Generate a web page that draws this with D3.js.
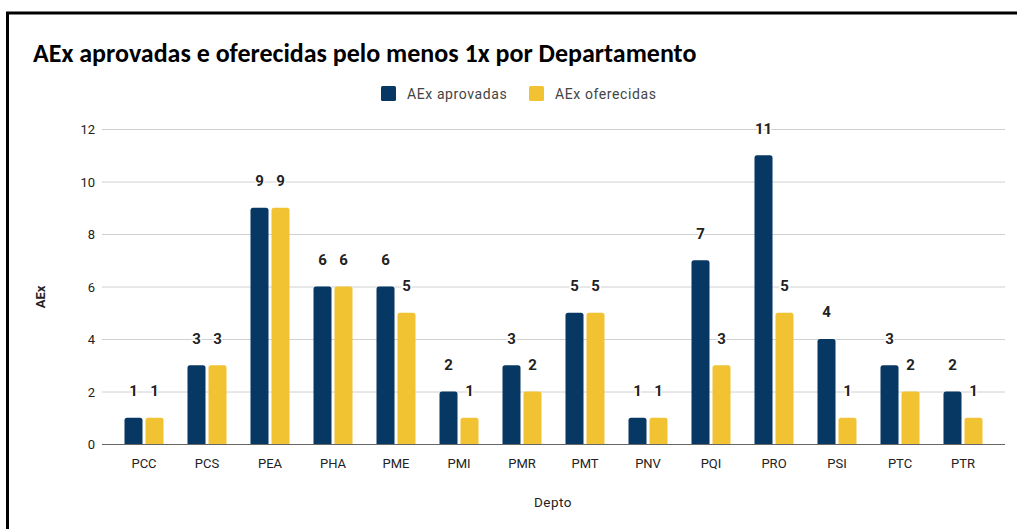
<!DOCTYPE html>
<html><head><meta charset="utf-8">
<script src="https://cdn.jsdelivr.net/npm/d3@7"></script>
<style>
html,body{margin:0;padding:0;background:#fff;}
svg{display:block;}
</style></head>
<body>
<svg id="chart" width="1017" height="529"></svg>
<script>
const categories = ["PCC","PCS","PEA","PHA","PME","PMI","PMR","PMT","PNV","PQI","PRO","PSI","PTC","PTR"];
const aprovadas  = [1,3,9,6,6,2,3,5,1,7,11,4,3,2];
const oferecidas = [1,3,9,6,5,1,2,5,1,3,5,1,2,1];
const seriesNames = ["AEx aprovadas","AEx oferecidas"];
const seriesColors = ["#073763","#f1c232"];
const yTicks = [0,2,4,6,8,10,12];

const svg = d3.select("#chart");
const W = 1017, H = 529;
const fontUI = "Roboto, 'Open Sans', sans-serif";

// frame lines (top and left)
svg.append("line").attr("x1",6).attr("x2",W).attr("y1",13).attr("y2",13).attr("stroke","#000").attr("stroke-width",3);
svg.append("line").attr("x1",7.5).attr("x2",7.5).attr("y1",12).attr("y2",H).attr("stroke","#000").attr("stroke-width",3);

// title
svg.append("text").attr("x",33).attr("y",62)
  .attr("font-family","Carlito, Lato, 'Open Sans', sans-serif").attr("font-weight","bold")
  .attr("font-size",26).attr("fill","#000")
  .text("AEx aprovadas e oferecidas pelo menos 1x por Departamento");

const x = d3.scaleBand().domain(categories).range([112.5,994.5]).paddingInner(0).paddingOuter(0);
const y = d3.scaleLinear().domain([0,12]).range([444,129]);

// gridlines
svg.append("g").selectAll("line").data(yTicks.filter(d=>d>0)).join("line")
  .attr("x1",102).attr("x2",1005)
  .attr("y1",d=>y(d)+0.5).attr("y2",d=>y(d)+0.5)
  .attr("stroke","#d0d0d0").attr("stroke-width",1);

// y axis labels
const yAxis = d3.axisLeft(y).tickValues(yTicks).tickSize(0).tickPadding(0).tickFormat(d3.format("d"));
const yg = svg.append("g").attr("transform","translate(95,0)").call(yAxis);
yg.select(".domain").remove();
yg.selectAll("text").attr("font-family",fontUI).attr("font-size",13).attr("fill","#222").attr("dy","0.35em");

// bars
const bw = 18, gap = 3;
const groups = categories.map((c,i)=>({c, vals:[aprovadas[i],oferecidas[i]]}));
function barPath(x0,y0,w,h,r){
  if(h<=0) return "";
  r=Math.min(r,h,w/2);
  return `M${x0},${y0+h}V${y0+r}Q${x0},${y0} ${x0+r},${y0}H${x0+w-r}Q${x0+w},${y0} ${x0+w},${y0+r}V${y0+h}Z`;
}
const gBars = svg.append("g");
groups.forEach(g=>{
  const cx = x(g.c)+x.bandwidth()/2;
  g.vals.forEach((v,s)=>{
    const bx = s===0 ? cx-gap/2-bw : cx+gap/2;
    gBars.append("path").attr("d",barPath(bx,y(v),bw,y(0)-y(v),2.5)).attr("fill",seriesColors[s]);
  });
});

// baseline
svg.append("line").attr("x1",102).attr("x2",1005).attr("y1",y(0)+0.5).attr("y2",y(0)+0.5)
  .attr("stroke","#666").attr("stroke-width",1.2);

// value labels
const gLab = svg.append("g");
groups.forEach(g=>{
  const cx = x(g.c)+x.bandwidth()/2;
  g.vals.forEach((v,s)=>{
    const bx = s===0 ? cx-gap/2-bw/2 : cx+gap/2+bw/2;
    gLab.append("text").attr("x",bx).attr("y",y(v)-27).attr("dy","0.35em")
      .attr("text-anchor","middle").attr("font-family",fontUI).attr("font-weight","bold")
      .attr("font-size",15).attr("fill","#222")
      .attr("stroke","#fff").attr("stroke-width",3).attr("paint-order","stroke")
      .text(v);
  });
});

// x axis labels
const xAxis = d3.axisBottom(x).tickSize(0).tickPadding(0);
const xg = svg.append("g").attr("transform","translate(0,463)").call(xAxis);
xg.select(".domain").remove();
xg.selectAll("text").attr("font-family",fontUI).attr("font-size",13).attr("fill","#222").attr("dy","0.35em");

// axis titles
svg.append("text").attr("x",553).attr("y",502).attr("dy","0.35em").attr("text-anchor","middle")
  .attr("font-family",fontUI).attr("font-size",13.5).attr("letter-spacing",0.5).attr("fill","#222").text("Depto");
svg.append("text").attr("transform","translate(40,297) rotate(-90)").attr("dy","0.35em").attr("text-anchor","middle")
  .attr("font-family",fontUI).attr("font-weight","bold").attr("font-size",13).attr("fill","#222").text("AEx");

// legend
const legendItems = [{x:381, tx:407},{x:529, tx:555}];
seriesNames.forEach((n,i)=>{
  svg.append("rect").attr("x",legendItems[i].x).attr("y",86).attr("width",15).attr("height",15)
    .attr("rx",1.5).attr("fill",seriesColors[i]);
  svg.append("text").attr("x",legendItems[i].tx).attr("y",94).attr("dy","0.35em")
    .attr("font-family",fontUI).attr("font-size",14).attr("letter-spacing",0.6).attr("fill","#444").text(n);
});
</script>
</body></html>
